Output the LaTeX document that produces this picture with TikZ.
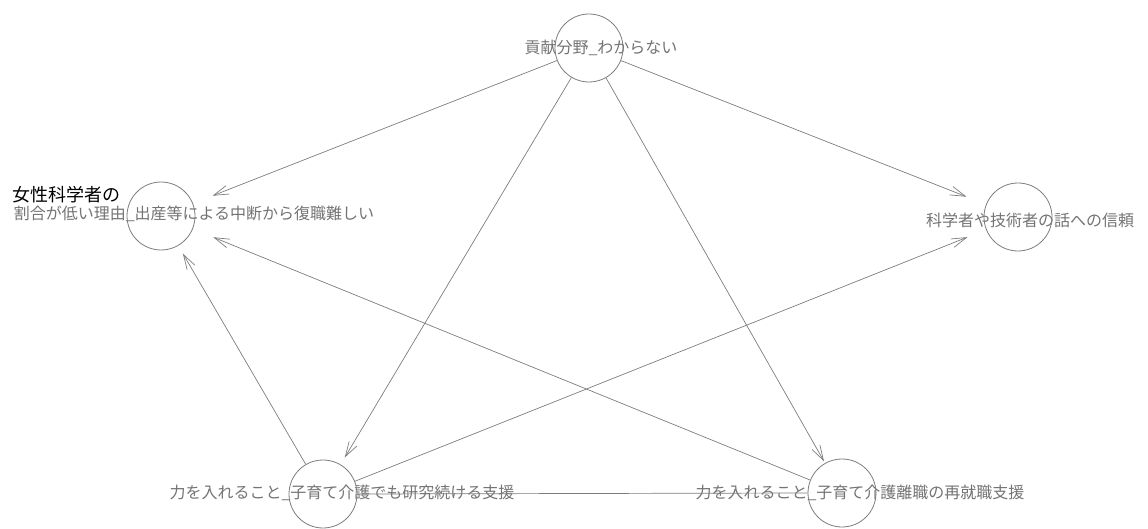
\documentclass[tikz,border=0pt]{standalone}
\usepackage{fontspec}
\newfontfamily\jp{Noto Sans CJK JP}
\usetikzlibrary{arrows.meta}
\definecolor{linegray}{RGB}{125,125,125}
\definecolor{textgray}{RGB}{115,115,115}
\tikzset{
  vtx/.style={circle, draw=linegray, line width=0.8pt, minimum size=68pt, inner sep=0pt},
  lbl/.style={font=\jp\fontsize{16}{16}\selectfont, text=textgray, inner sep=0pt},
  blk/.style={font=\jp\fontsize{18}{18}\selectfont, text=black, inner sep=0pt},
  conn/.style={draw=linegray, line width=0.7pt},
  arr/.style={conn, -{Straight Barb[length=15pt,width=9pt,line width=0.7pt]}}
}
\begin{document}
\begin{tikzpicture}[x=1pt,y=-1pt]
\useasboundingbox (0,0) rectangle (1148,529);
% labels
\node[lbl] (tlab) at (601,48) {貢献分野\_わからない};
\node[lbl] (llab) at (194,214) {割合が低い理由\_出産等による中断から復職難しい};
\node[blk, anchor=west] (ltitle) at (12,195) {女性科学者の};
\node[lbl] (rlab) at (1030,220) {科学者や技術者の話への信頼};
\node[lbl] (bllab) at (342,493) {力を入れること\_子育て介護でも研究続ける支援};
\node[lbl] (brlab) at (860,493) {力を入れること\_子育て介護離職の再就職支援};
% circles
\node[vtx] (top) at (589,48) {};
\node[vtx] (left) at (161,216) {};
\node[vtx] (right) at (1018,217) {};
\node[vtx] (bl) at (323,494) {};
\node[vtx] (br) at (842,493) {};
% edges
\draw[arr, shorten >=21pt] (top) -- (left);
\draw[arr, shorten >=21pt] (top) -- (right);
\draw[arr, shorten >=8pt] (top) -- (bl);
\draw[arr, shorten >=2pt] (top) -- (br);
\draw[arr, shorten >=9pt] (bl) -- (left);
\draw[arr, shorten >=22pt] (br) -- (left);
\draw[arr, shorten >=20pt] (bl) -- (right);
\draw[conn] (bl.east) -- (br.west);
\end{tikzpicture}
\end{document}
